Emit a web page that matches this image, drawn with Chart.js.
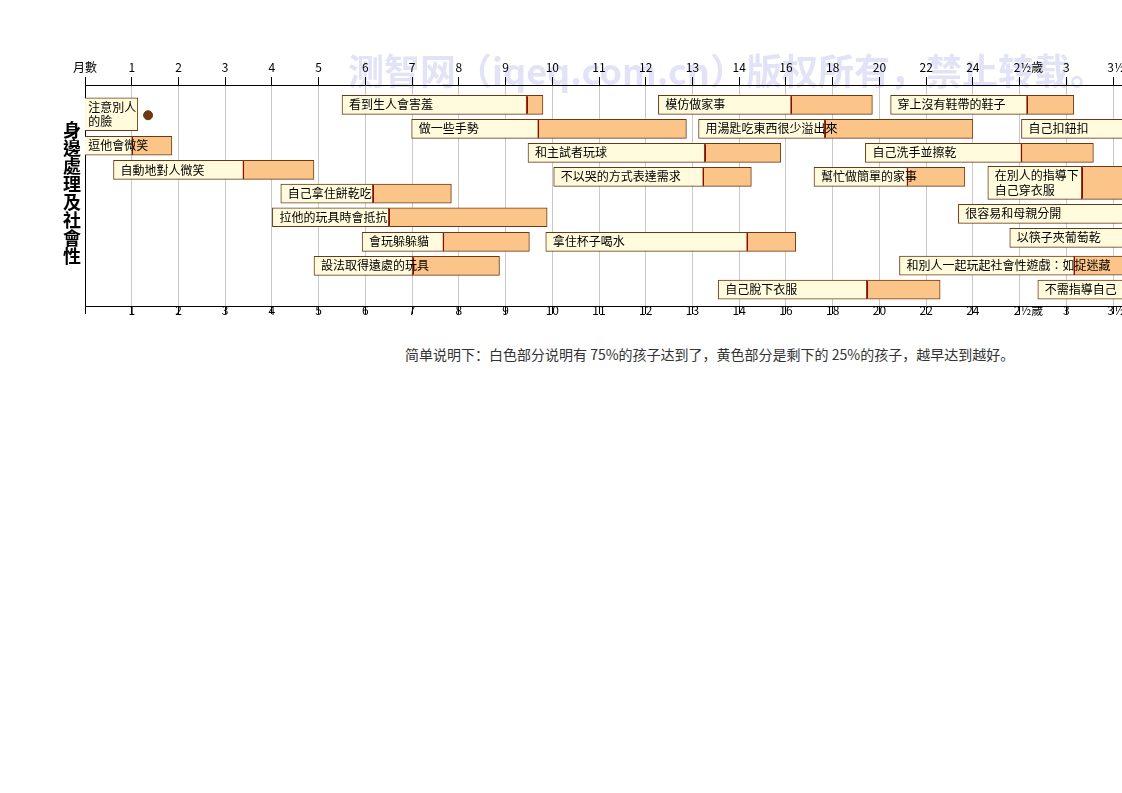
<!DOCTYPE html>
<html>
<head>
<meta charset="utf-8">
<title>身邊處理及社會性</title>
<script src="https://cdn.jsdelivr.net/npm/chart.js@4.4.1/dist/chart.umd.min.js"></script>
<style>
  html, body { margin: 0; padding: 0; background: #fff; overflow: hidden; width: 1122px; height: 793px; }
  #chart-wrap { position: absolute; left: 0; top: 0; width: 1212px; height: 330px; }
  #note { position: absolute; left: 405px; top: 344px; font: 14px "Noto Sans CJK SC", sans-serif; color: #333; white-space: nowrap; }
</style>
</head>
<body>
<div id="chart-wrap"><canvas id="social-chart"></canvas></div>
<div id="note">简单说明下：白色部分说明有 75%的孩子达到了，黄色部分是剩下的 25%的孩子，越早达到越好。</div>
<script>
// AXIS: one slot per tick (0-13 months, then every 2 months, then half years)
const tickLabels = ['月數', '1', '2', '3', '4', '5', '6', '7', '8', '9', '10', '11', '12', '13',
  '14', '16', '18', '20', '22', '24', '2½歲', '3', '3½歲'];

// TASKS (ages in axis slots, rows counted from the top axis)
const taskNames = [
  '注意別人\n的臉', '逗他會微笑', '自動地對人微笑', '自己拿住餅乾吃', '拉他的玩具時會抵抗',
  '會玩躲躲貓', '設法取得遠處的玩具', '看到生人會害羞', '做一些手勢', '和主試者玩球',
  '不以哭的方式表達需求', '拿住杯子喝水', '模仿做家事', '用湯匙吃東西很少溢出來', '自己洗手並擦乾',
  '幫忙做簡單的家事', '自己脫下衣服', '穿上沒有鞋帶的鞋子', '自己扣鈕扣', '在別人的指導下\n自己穿衣服',
  '很容易和母親分開', '以筷子夾葡萄乾', '和別人一起玩起社會性遊戲：如捉迷藏', '不需指導自己'
];
const taskRows = [1.22, 2.53, 3.54, 4.53, 5.51, 6.54, 7.54, 0.83, 1.83, 2.83,
  3.83, 6.54, 0.83, 1.83, 2.83, 3.83, 8.53, 0.83, 1.83, 4.08,
  5.37, 6.37, 7.53, 8.53];
const startAge = [-0.08, -0.08, 0.61, 4.19, 4.01, 5.93, 4.90, 5.50, 6.99, 9.48,
  10.03, 9.86, 12.27, 13.13, 16.70, 15.60, 13.55, 17.24, 20.04, 19.32,
  18.69, 19.79, 17.43, 20.39];
const age75 = [1.13, 1.01, 3.39, 6.16, 6.50, 7.67, 7.01, 9.45, 9.70, 13.26,
  13.23, 14.17, 15.11, 15.83, 20.04, 17.60, 16.73, 20.16, 22.6, 21.33,
  22.8, 22.7, 21.17, 22.9];
const age100 = [1.13, 1.86, 4.90, 7.84, 9.89, 9.51, 8.87, 9.80, 12.87, 14.89,
  14.26, 15.21, 16.85, 19.00, 21.58, 18.83, 18.30, 21.16, 23.5, 23.2,
  23.8, 23.6, 23.0, 23.9];

// SINGLE MARKER
const markerAge = [1.35];
const markerRow = [1.26];

const yTitle = '身邊處理及社會性';
const watermark = '测智网（iqeq.com.cn）版权所有，禁止转载。';

const WHITE = '#fffbdc';
const ORANGE = '#fbc589';
const BROWN = '#6b3a12';
const DIVIDER = '#a00000';
const labelFont = '12px "Noto Sans CJK TC", sans-serif';

function lineCount(i){
    return taskNames[i].split('\n').length;
}

function thickness(i){
    return lineCount(i) > 1 ? 33 : 19;
}

// fraction labels sit with the whole number left of the tick
function tickText(v){
    const t = tickLabels[v] ?? '';
    return t.includes('½') ? '\u2002\u2002\u2002' + t : t;
}

function buildDatasets(){
    const sets = [];
    [1, 2].forEach(lines => {
        const idx = taskNames.map((n, i) => i).filter(i => lineCount(i) === lines);
        const bar = lines > 1 ? 33 : 19;
        sets.push({
            type: 'bar',
            label: 'later',
            data: idx.filter(i => age100[i] > age75[i]).map(i => ({ x: [age75[i], age100[i]], y: taskRows[i] })),
            backgroundColor: ORANGE,
            borderColor: BROWN,
            borderWidth: 1,
            borderSkipped: false,
            grouped: false,
            barThickness: bar,
            xAxisID: 'x',
            yAxisID: 'y'
        });
        sets.push({
            type: 'bar',
            label: 'early',
            data: idx.map(i => ({ x: [startAge[i], age75[i]], y: taskRows[i] })),
            backgroundColor: WHITE,
            borderColor: BROWN,
            borderWidth: 1,
            borderSkipped: false,
            grouped: false,
            barThickness: bar,
            xAxisID: 'x',
            yAxisID: 'y'
        });
    });
    sets.push({
        type: 'scatter',
        label: 'marker',
        data: markerAge.map((a, i) => ({ x: a, y: markerRow[i] })),
        backgroundColor: '#6b3a12',
        borderColor: '#6b3a12',
        pointRadius: 4.5,
        xAxisID: 'x',
        yAxisID: 'y'
    });
    return sets;
}

// DIVIDERS, TASK TEXT, WATERMARK AND SIDE TITLE
const chartDecor = {
    id: 'chartDecor',
    beforeDraw(chart){
        const ctx = chart.ctx;
        ctx.save();
        ctx.font = 'bold 36px "Noto Sans CJK SC", sans-serif';
        ctx.fillStyle = '#e3e3f8';
        ctx.textBaseline = 'middle';
        ctx.fillText(watermark, 348, 71);
        ctx.restore();
    },
    afterDatasetsDraw(chart){
        const ctx = chart.ctx;
        const xs = chart.scales.x;
        const ys = chart.scales.y;
        const area = chart.chartArea;
        ctx.save();
        taskNames.forEach((name, i) => {
            const yc = ys.getPixelForValue(taskRows[i]);
            const h = thickness(i);
            if (age100[i] > age75[i]) {
                const xm = Math.round(xs.getPixelForValue(age75[i])) + 0.5;
                ctx.strokeStyle = DIVIDER;
                ctx.lineWidth = 1;
                ctx.beginPath();
                ctx.moveTo(xm, yc - h / 2 + 1);
                ctx.lineTo(xm, yc + h / 2 - 1);
                ctx.stroke();
            }
            const lines = name.split('\n');
            const x0 = Math.max(xs.getPixelForValue(startAge[i]), area.left - 4) + 7;
            ctx.font = labelFont;
            ctx.fillStyle = '#000';
            ctx.textBaseline = 'middle';
            lines.forEach((ln, k) => {
                const off = (k - (lines.length - 1) / 2) * 14.5;
                ctx.fillText(ln, x0, yc + off);
            });
        });
        ctx.restore();
    },
    afterDraw(chart){
        const ctx = chart.ctx;
        const area = chart.chartArea;
        const chars = yTitle.split('');
        const step = 18;
        const yMid = (area.top + area.bottom) / 2 - 2;
        ctx.save();
        ctx.font = 'bold 18px "Noto Sans CJK TC", sans-serif';
        ctx.fillStyle = '#000';
        ctx.textAlign = 'center';
        ctx.textBaseline = 'middle';
        chars.forEach((c, k) => {
            ctx.fillText(c, 72, yMid + (k - (chars.length - 1) / 2) * step);
        });
        ctx.restore();
    }
};

const ctx = document.getElementById('social-chart').getContext('2d');
const tickFont = { family: '"Noto Sans CJK TC", sans-serif', size: 12 };

const socialChart = new Chart(ctx, {
    type: 'bar',
    data: { datasets: buildDatasets() },
    options: {
        indexAxis: 'y',
        responsive: true,
        maintainAspectRatio: false,
        animation: false,
        layout: { padding: { left: 85, top: 0, right: 0, bottom: 0 } },
        plugins: {
            legend: { display: false },
            tooltip: { enabled: false }
        },
        scales: {
            x: {
                type: 'linear',
                position: 'top',
                min: 0,
                max: 24,
                offset: false,
                afterFit: s => { s.height = 85; },
                grid: { color: '#c8c8c8', tickColor: '#000', tickLength: 8, drawOnChartArea: true, offset: false },
                border: { color: '#000', width: 1 },
                ticks: {
                    stepSize: 1,
                    autoSkip: false,
                    maxRotation: 0,
                    maxTicksLimit: 40,
                    padding: 2,
                    color: '#000',
                    font: tickFont,
                    callback: v => tickText(v)
                }
            },
            x2: {
                type: 'linear',
                position: 'bottom',
                min: 0,
                max: 24,
                offset: false,
                afterFit: s => { s.height = 24; },
                grid: { color: '#c8c8c8', tickColor: '#000', tickLength: 8, drawOnChartArea: false, offset: false },
                border: { color: '#000', width: 1 },
                ticks: {
                    stepSize: 1,
                    autoSkip: false,
                    maxRotation: 0,
                    maxTicksLimit: 40,
                    padding: -11,
                    color: '#000',
                    font: tickFont,
                    callback: v => v === 0 ? '' : tickText(v)
                }
            },
            y: {
                type: 'linear',
                reverse: true,
                min: 0,
                max: 9.21,
                offset: false,
                afterFit: s => { s.width = 0; },
                grid: { display: false, offset: false },
                border: { display: true, color: '#000', width: 1 },
                ticks: { display: false }
            }
        }
    },
    plugins: [chartDecor]
});
</script>
</body>
</html>
